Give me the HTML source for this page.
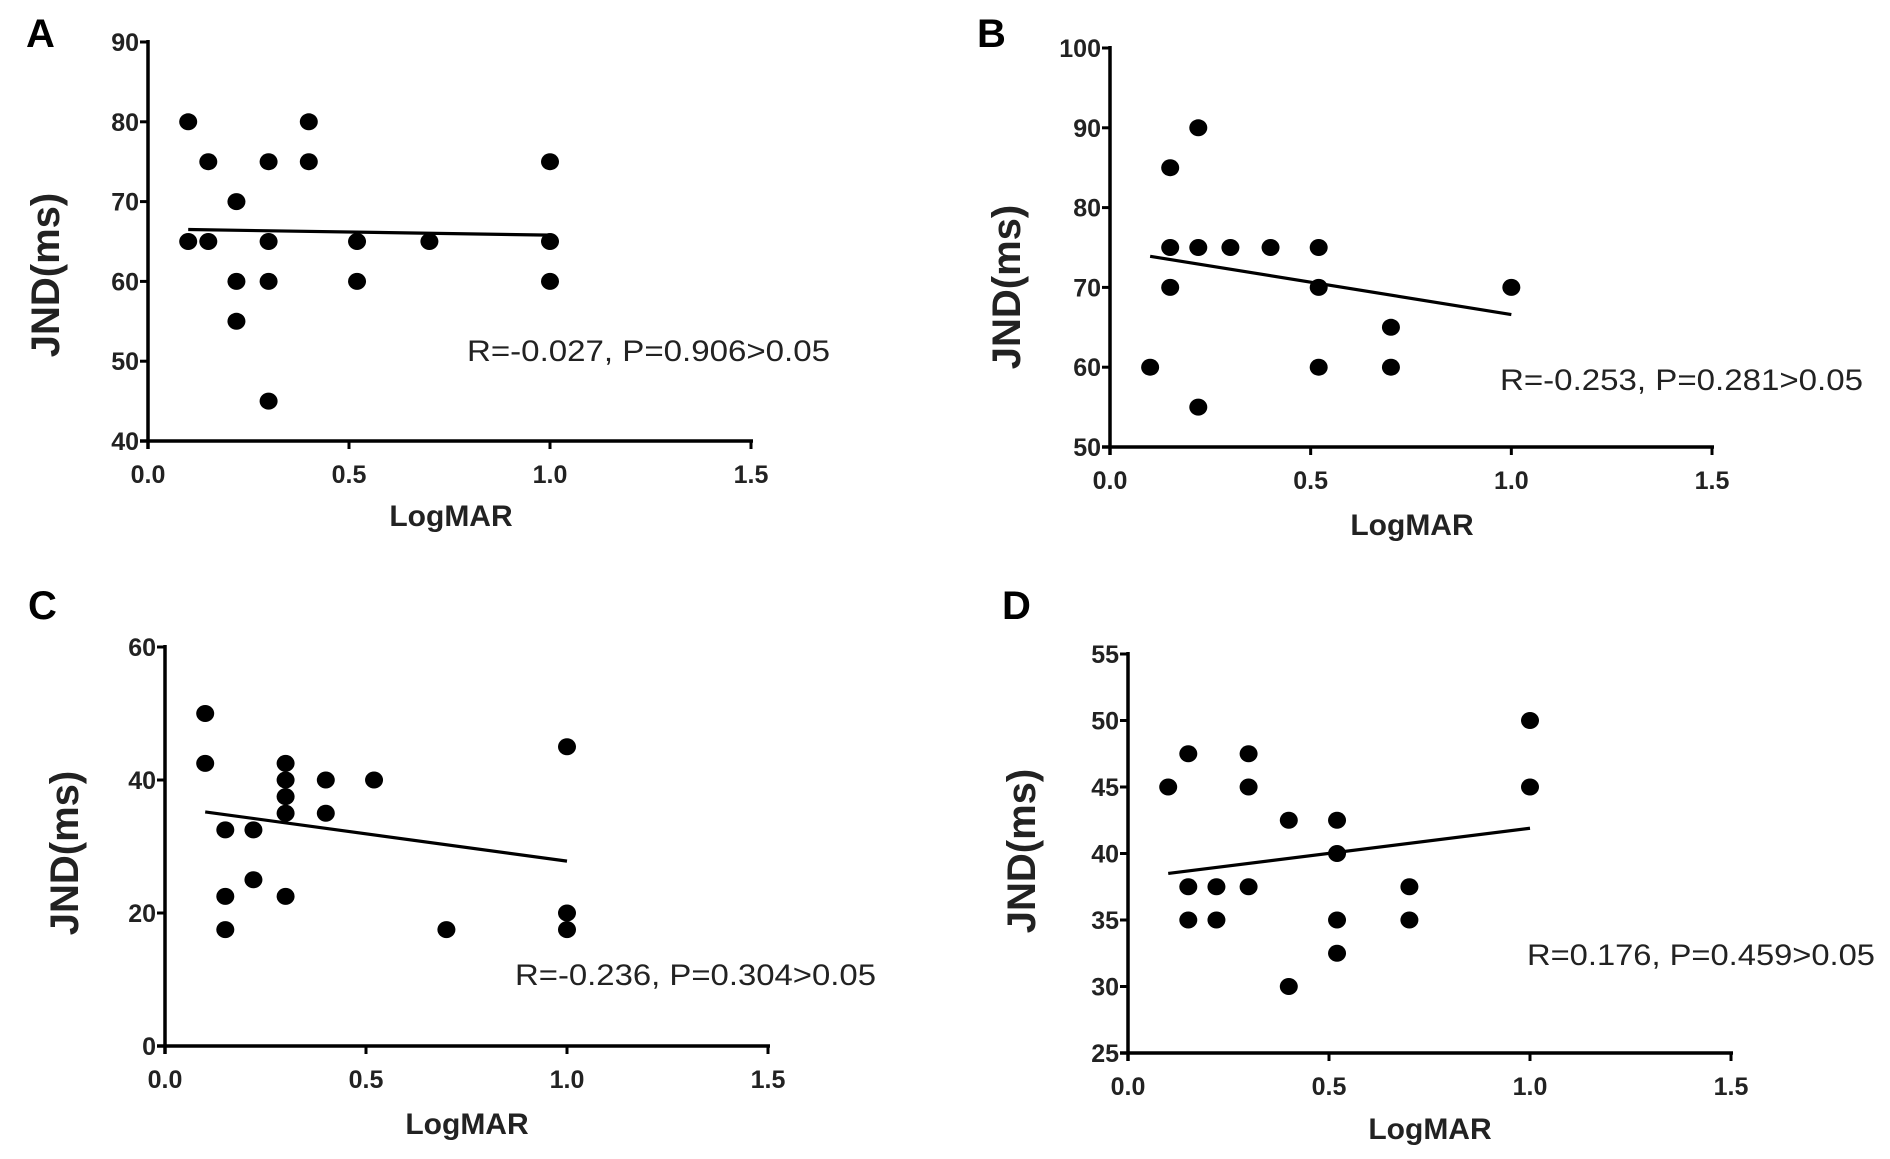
<!DOCTYPE html>
<html><head><meta charset="utf-8"><style>
html,body{margin:0;padding:0;background:#fff;}
svg{display:block;}
</style></head><body>
<svg id="fig" width="1890" height="1159" viewBox="0 0 1890 1159" xmlns="http://www.w3.org/2000/svg"></svg>
<script>
// Panel A data
const aX = [0.1,0.1,0.15,0.15,0.22,0.22,0.22,0.3,0.3,0.3,0.3,0.4,0.4,0.52,0.52,0.7,1,1,1];
const aY = [80,65,75,65,70,60,55,75,65,60,45,80,75,65,60,65,75,65,60];
const aFit = [66.5,65.8];
const aTicksY = [40,50,60,70,80,90];
// Panel B data
const bX = [0.1,0.15,0.15,0.15,0.22,0.22,0.22,0.3,0.4,0.52,0.52,0.52,0.7,0.7,1];
const bY = [60,85,75,70,90,75,55,75,75,75,70,60,65,60,70];
const bFit = [73.9,66.6];
const bTicksY = [50,60,70,80,90,100];
// Panel C data
const cX = [0.1,0.1,0.15,0.15,0.15,0.22,0.22,0.3,0.3,0.3,0.3,0.3,0.4,0.4,0.52,0.7,1,1,1];
const cY = [50,42.5,32.5,22.5,17.5,32.5,25,42.5,40,37.5,35,22.5,40,35,40,17.5,45,20,17.5];
const cFit = [35.2,27.8];
const cTicksY = [0,20,40,60];
// Panel D data
const dX = [0.1,0.15,0.15,0.15,0.22,0.22,0.3,0.3,0.3,0.4,0.4,0.52,0.52,0.52,0.52,0.7,0.7,1,1];
const dY = [45,47.5,37.5,35,37.5,35,47.5,45,37.5,42.5,30,42.5,40,35,32.5,37.5,35,50,45];
const dFit = [38.5,41.9];
const dTicksY = [25,30,35,40,45,50,55];
const xTicks = [0,0.5,1.0,1.5];
const xTickLabels = ["0.0","0.5","1.0","1.5"];
const fitRange = [0.1,1.0];
const stats = ["R=-0.027, P=0.906>0.05","R=-0.253, P=0.281>0.05","R=-0.236, P=0.304>0.05","R=0.176, P=0.459>0.05"];
const letters = ["A","B","C","D"];

const NS="http://www.w3.org/2000/svg";
const svg=document.getElementById('fig');
function mk(tag,attrs,parent){const e=document.createElementNS(NS,tag);for(const k in attrs)e.setAttribute(k,attrs[k]);(parent||svg).appendChild(e);return e;}

const layouts=[
 {x0:148,x1:751,yTop:42,yBot:441,letter:[26,47],jnd:[44,275],log:[451,526],stat:[467,361,363]},
 {x0:1110,x1:1712,yTop:48,yBot:447,letter:[977,47],jnd:[1005,287],log:[1412,535],stat:[1500,390,363]},
 {x0:165,x1:768,yTop:647,yBot:1046,letter:[28,619],jnd:[63,853],log:[467,1134],stat:[515,985,361]},
 {x0:1128,x1:1731,yTop:654,yBot:1053,letter:[1002,619],jnd:[1020,851],log:[1430,1139],stat:[1527,965,348]}
];
const datasets=[[aX,aY,aFit,aTicksY],[bX,bY,bFit,bTicksY],[cX,cY,cFit,cTicksY],[dX,dY,dFit,dTicksY]];

datasets.forEach((ds,i)=>{
  const L=layouts[i];const [xs,ys,fit,ty]=ds;
  const ymin=ty[0],ymax=ty[ty.length-1];
  const sx=v=>L.x0+(v-0)/(1.5-0)*(L.x1-L.x0);
  const sy=v=>L.yBot-(v-ymin)/(ymax-ymin)*(L.yBot-L.yTop);
  const g=mk('g',{});
  
  
  const lt=mk('text',{x:L.letter[0],y:L.letter[1],'font-family':'Liberation Sans, sans-serif','font-weight':'bold','font-size':40},g);
  lt.textContent=letters[i];
  
  
  const ya=mk('line',{x1:L.x0,y1:L.yTop-2,x2:L.x0,y2:L.yBot+8,stroke:'#000','stroke-width':3.5},g);
  
  
  const xa=mk('line',{x1:L.x0-8,y1:L.yBot,x2:L.x1+2,y2:L.yBot,stroke:'#000','stroke-width':3.5},g);
  
  
  ty.forEach(v=>{
    const y=sy(v);
    const tk=mk('line',{x1:L.x0-8,y1:y,x2:L.x0,y2:y,stroke:'#000','stroke-width':3},g);
    
    
    const t=mk('text',{x:L.x0-9,y:y+9,'text-anchor':'end','font-family':'Liberation Sans, sans-serif','font-weight':'bold','font-size':25,fill:'#222'},g);
    t.textContent=v;
    
    
  });
  xTicks.forEach((v,j)=>{
    const x=sx(v);
    const tk=mk('line',{x1:x,y1:L.yBot,x2:x,y2:L.yBot+8,stroke:'#000','stroke-width':3},g);
    
    
    const t=mk('text',{x:x,y:L.yBot+42,'text-anchor':'middle','font-family':'Liberation Sans, sans-serif','font-weight':'bold','font-size':25,fill:'#222'},g);
    t.textContent=xTickLabels[j];
    
    
  });
  const xl=mk('text',{x:L.log[0],y:L.log[1],'text-anchor':'middle','font-family':'Liberation Sans, sans-serif','font-weight':'bold','font-size':30,fill:'#222'},g);
  xl.textContent='LogMAR';
  
  
  const yl=mk('text',{x:0,y:0,'text-anchor':'middle','font-family':'Liberation Sans, sans-serif','font-weight':'bold','font-size':40,fill:'#222',transform:`translate(${L.jnd[0]+15},${L.jnd[1]}) rotate(-90)`},g);
  yl.textContent='JND(ms)';
  
  
  const fl=mk('line',{x1:sx(fitRange[0]),y1:sy(fit[0]),x2:sx(fitRange[1]),y2:sy(fit[1]),stroke:'#000','stroke-width':3.2},g);
  
  
  xs.forEach((x,k)=>{
    const c=mk('ellipse',{cx:sx(x),cy:sy(ys[k]),rx:9,ry:8.5,fill:'#000'},g);
    
    
  });
  const st=mk('text',{x:L.stat[0],y:L.stat[1],'font-family':'Liberation Sans, sans-serif','font-size':30,fill:'#222',textLength:L.stat[2],lengthAdjust:'spacingAndGlyphs'},g);
  st.textContent=stats[i];
  
  
});
</script>
</body></html>
